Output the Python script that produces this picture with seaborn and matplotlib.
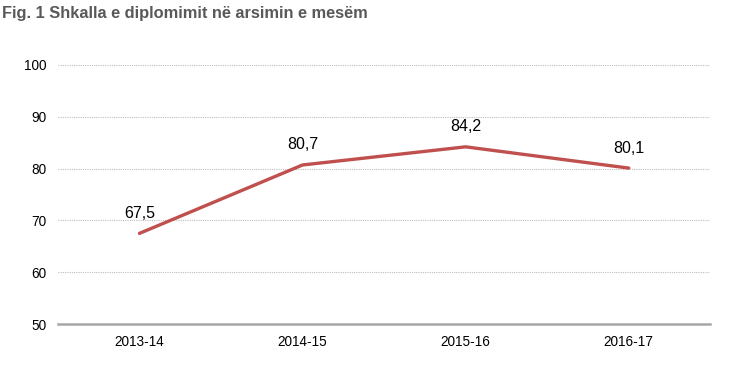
import pandas as pd
import matplotlib.pyplot as plt
import seaborn as sns

years = ["2013-14", "2014-15", "2015-16", "2016-17"]
rates = [67.5, 80.7, 84.2, 80.1]
labels = ["67,5", "80,7", "84,2", "80,1"]

df = pd.DataFrame({"year": years, "rate": rates})

sns.set_style("white")
plt.rcParams["font.family"] = ["Liberation Sans", "DejaVu Sans"]

fig = plt.figure(figsize=(7.33, 3.67), dpi=100)
ax = fig.add_axes([0.079, 0.117, 0.890, 0.706])

sns.lineplot(data=df, x="year", y="rate", color="#C0504D", linewidth=2.4,
             sort=False, ax=ax)

for i, (v, t) in enumerate(zip(rates, labels)):
    ax.annotate(t, (i, v), xytext=(0, 9), textcoords="offset points",
                ha="center", va="bottom", fontsize=11.5, color="#000000")

ax.set_ylim(50, 100)
ax.set_xlim(-0.5, 3.5)
ax.set_yticks([50, 60, 70, 80, 90, 100])
ax.yaxis.grid(True, linestyle=(0, (1, 1)), color="#BFBFBF", linewidth=0.8)
ax.set_axisbelow(True)
for s in ["top", "right", "left"]:
    ax.spines[s].set_visible(False)
ax.spines["bottom"].set_color("#A6A6A6")
ax.spines["bottom"].set_linewidth(1.8)
ax.tick_params(axis="both", length=0, labelsize=9.8, colors="#000000", pad=8)
ax.set_xlabel("")
ax.set_ylabel("")

fig.text(0.003, 0.985, "Fig. 1 Shkalla e diplomimit në arsimin e mesëm",
         fontsize=11.8, fontweight="bold", color="#595959", va="top", ha="left")

fig.savefig("out.png", dpi=100)
